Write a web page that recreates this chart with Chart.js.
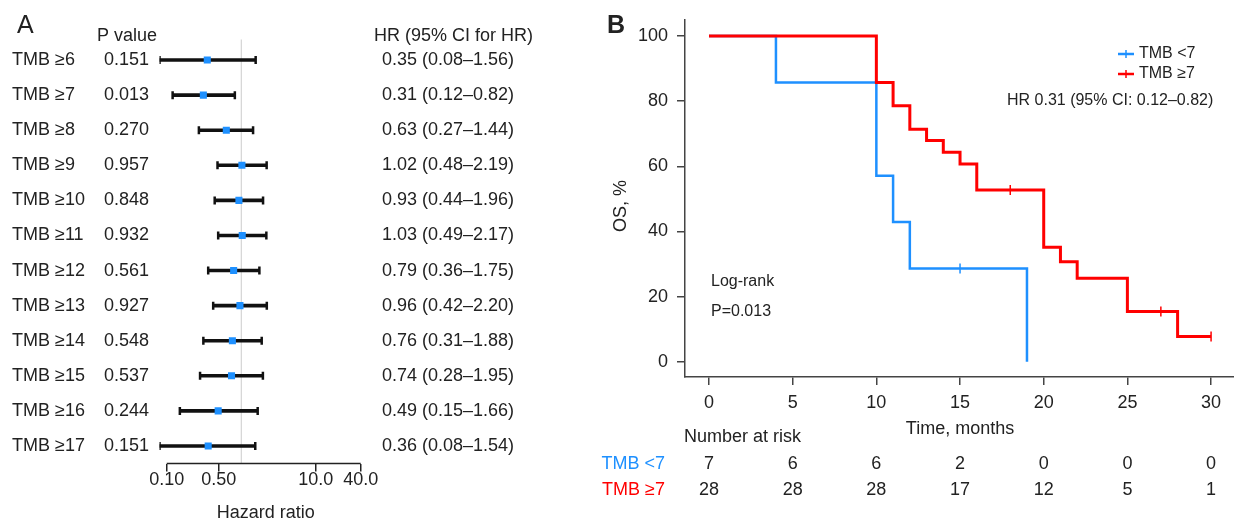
<!DOCTYPE html>
<html>
<head>
<meta charset="utf-8">
<script src="https://cdn.jsdelivr.net/npm/chart.js@4.4.1/dist/chart.umd.min.js"></script>
<style>
  html, body { margin: 0; padding: 0; background: #fff; }
  #wrap { position: relative; width: 1234px; height: 523px; overflow: hidden; }
  #forest { position: absolute; left: 0; top: 0; }
  #km { position: absolute; left: 590px; top: 0; }
</style>
</head>
<body>
<div id="wrap">
  <canvas id="forest" width="590" height="523"></canvas>
  <canvas id="km" width="644" height="523"></canvas>
</div>
<script>
const FONT = "'Liberation Sans', Arial, sans-serif";
const TXT = '#222';
const BLUE = '#1e90ff';
const RED = '#ff0000';

// Panel A: forest plot
const tmbLabels = ['TMB ≥6', 'TMB ≥7', 'TMB ≥8', 'TMB ≥9', 'TMB ≥10', 'TMB ≥11',
                   'TMB ≥12', 'TMB ≥13', 'TMB ≥14', 'TMB ≥15', 'TMB ≥16', 'TMB ≥17'];
const pValues = ['0.151', '0.013', '0.270', '0.957', '0.848', '0.932',
                 '0.561', '0.927', '0.548', '0.537', '0.244', '0.151'];
const hrValues = [0.35, 0.31, 0.63, 1.02, 0.93, 1.03, 0.79, 0.96, 0.76, 0.74, 0.49, 0.36];
const ciLower = [0.08, 0.12, 0.27, 0.48, 0.44, 0.49, 0.36, 0.42, 0.31, 0.28, 0.15, 0.08];
const ciUpper = [1.56, 0.82, 1.44, 2.19, 1.96, 2.17, 1.75, 2.20, 1.88, 1.95, 1.66, 1.54];
const hrTicks = [0.1, 0.5, 10, 40];
const hrTickLabels = ['0.10', '0.50', '10.0', '40.0'];

// Panel B: Kaplan-Meier
const timeTicks = [0, 5, 10, 15, 20, 25, 30];
const osTicks = [0, 20, 40, 60, 80, 100];
const lowTime = [0, 4, 10, 11, 12, 15, 19];
const lowOS = [100, 85.7, 57.1, 42.9, 28.6, 28.6, 0];
const lowCensor = [0, 0, 0, 0, 0, 1, 0];
const highTime = [0, 10, 11, 12, 13, 14, 15, 16, 18, 20, 21, 22, 25, 27, 28, 30];
const highOS = [100, 85.7, 78.6, 71.4, 67.9, 64.3, 60.7, 52.7, 52.7, 35.1, 30.7, 25.6, 15.4, 15.4, 7.7, 7.7];
const highCensor = [0, 0, 0, 0, 0, 0, 0, 0, 1, 0, 0, 0, 0, 1, 0, 1];
const riskLow = [7, 6, 6, 2, 0, 0, 0];
const riskHigh = [28, 28, 28, 17, 12, 5, 1];

Chart.defaults.font.family = FONT;
Chart.defaults.color = TXT;

// texts and reference line of the forest plot
const forestText = {
    id: 'forestText',
    beforeDatasetsDraw(chart) {
        const {ctx, chartArea, scales: {x}} = chart;
        const x1 = x.getPixelForValue(1);
        ctx.save();
        ctx.strokeStyle = '#cccccc';
        ctx.lineWidth = 1;
        ctx.beginPath();
        ctx.moveTo(x1, chartArea.top - 3);
        ctx.lineTo(x1, chartArea.bottom);
        ctx.stroke();
        ctx.restore();
    },
    afterDraw(chart) {
        const {ctx, chartArea, scales: {x, y}} = chart;
        ctx.save();
        // axis line only from first to last tick
        ctx.strokeStyle = TXT;
        ctx.lineWidth = 1.5;
        ctx.beginPath();
        ctx.moveTo(x.getPixelForValue(hrTicks[0]), chartArea.bottom);
        ctx.lineTo(x.getPixelForValue(hrTicks[hrTicks.length - 1]), chartArea.bottom);
        ctx.stroke();

        ctx.fillStyle = TXT;
        ctx.textBaseline = 'alphabetic';
        ctx.font = '25px ' + FONT;
        ctx.fillText('A', 17, 33);
        ctx.font = '18px ' + FONT;
        ctx.fillText('P value', 97, 41);
        ctx.fillText('HR (95% CI for HR)', 374, 41);

        ctx.textBaseline = 'middle';
        tmbLabels.forEach(function(lab, i) {
            const py = y.getPixelForValue(i);
            ctx.fillText(lab, 12, py);
            ctx.fillText(pValues[i], 104, py);
            ctx.fillText(hrValues[i].toFixed(2) + ' (' + ciLower[i].toFixed(2) + '–' + ciUpper[i].toFixed(2) + ')', 382, py);
        });

        ctx.textAlign = 'center';
        const mid = (x.getPixelForValue(hrTicks[0]) + x.getPixelForValue(hrTicks[hrTicks.length - 1])) / 2;
        ctx.fillText('Hazard ratio', mid + 2, 513);
        ctx.restore();
    }
};

new Chart(document.getElementById('forest'), {
    type: 'bar',
    data: {
        labels: tmbLabels,
        datasets: [
            {
                type: 'line',
                data: tmbLabels.map((lab, i) => ({x: hrValues[i], y: lab})),
                showLine: false,
                pointStyle: 'rect',
                pointRadius: 5,
                pointBackgroundColor: BLUE,
                pointBorderColor: BLUE,
                pointBorderWidth: 0,
                order: 0
            },
            {
                type: 'line',
                data: tmbLabels.map((lab, i) => ({x: ciLower[i], y: lab})),
                showLine: false,
                pointStyle: 'line',
                pointRotation: 90,
                pointRadius: 4,
                pointBorderColor: '#111',
                pointBorderWidth: 2.5,
                order: 1
            },
            {
                type: 'line',
                data: tmbLabels.map((lab, i) => ({x: ciUpper[i], y: lab})),
                showLine: false,
                pointStyle: 'line',
                pointRotation: 90,
                pointRadius: 4,
                pointBorderColor: '#111',
                pointBorderWidth: 2.5,
                order: 1
            },
            {
                type: 'bar',
                data: tmbLabels.map((lab, i) => [ciLower[i], ciUpper[i]]),
                backgroundColor: '#111',
                barThickness: 3,
                order: 2
            }
        ]
    },
    options: {
        indexAxis: 'y',
        responsive: false,
        animation: false,
        events: [],
        layout: { autoPadding: false, padding: { left: 159.5, right: 229.3, top: 42.5, bottom: 0 } },
        plugins: { legend: { display: false }, tooltip: { enabled: false } },
        scales: {
            y: { type: 'category', offset: true, display: false },
            x: {
                type: 'logarithmic',
                position: 'bottom',
                min: 0.08,
                max: 40,
                bounds: 'data',
                afterBuildTicks: function(s) { s.ticks = hrTicks.map(v => ({value: v})); },
                afterFit: function(s) { s.height = 59.5; },
                grid: { drawOnChartArea: false, tickLength: 8, color: TXT, lineWidth: 1.5 },
                border: { display: false },
                ticks: {
                    autoSkip: false,
                    maxRotation: 0,
                    padding: -2,
                    color: TXT,
                    font: { size: 18 },
                    callback: function(v, i) { return hrTickLabels[i]; }
                }
            }
        }
    },
    plugins: [forestText]
});

// texts, legend and number at risk of the KM plot
const kmText = {
    id: 'kmText',
    afterDraw(chart) {
        const {ctx, scales: {x}} = chart;
        const sets = chart.data.datasets;
        ctx.save();
        ctx.fillStyle = TXT;
        ctx.textBaseline = 'alphabetic';
        ctx.font = 'bold 25px ' + FONT;
        ctx.fillText('B', 17, 33);

        // legend
        ctx.font = '16px ' + FONT;
        ctx.textBaseline = 'middle';
        sets.forEach(function(ds, i) {
            const ly = 54 + i * 20;
            ctx.strokeStyle = ds.borderColor;
            ctx.lineWidth = 2.5;
            ctx.beginPath();
            ctx.moveTo(528, ly);
            ctx.lineTo(544, ly);
            ctx.stroke();
            ctx.lineWidth = 1.5;
            ctx.beginPath();
            ctx.moveTo(536, ly - 4);
            ctx.lineTo(536, ly + 4);
            ctx.stroke();
            ctx.fillStyle = TXT;
            ctx.fillText(ds.label, 549, ly);
        });
        ctx.fillText('HR 0.31 (95% CI: 0.12–0.82)', 417, 101);
        ctx.fillText('Log-rank', 121, 282);
        ctx.fillText('P=0.013', 121, 312);

        // axis titles
        ctx.font = '18px ' + FONT;
        ctx.save();
        ctx.translate(31, 206);
        ctx.rotate(-Math.PI / 2);
        ctx.textAlign = 'center';
        ctx.fillText('OS, %', 0, 0);
        ctx.restore();
        ctx.textAlign = 'center';
        const mid = (x.getPixelForValue(timeTicks[0]) + x.getPixelForValue(timeTicks[timeTicks.length - 1])) / 2;
        ctx.fillText('Time, months', mid, 429);

        // number at risk
        ctx.textAlign = 'left';
        ctx.fillText('Number at risk', 94, 437);
        const rows = [[sets[0], riskLow, 464], [sets[1], riskHigh, 490]];
        rows.forEach(function(r) {
            ctx.textAlign = 'right';
            ctx.fillStyle = r[0].borderColor;
            ctx.fillText(r[0].label, 75, r[2]);
            ctx.textAlign = 'center';
            ctx.fillStyle = TXT;
            timeTicks.forEach(function(t, i) {
                ctx.fillText(String(r[1][i]), x.getPixelForValue(t), r[2]);
            });
        });
        ctx.restore();
    }
};

new Chart(document.getElementById('km'), {
    type: 'line',
    data: {
        datasets: [
            {
                label: 'TMB <7',
                data: lowTime.map((t, i) => ({x: t, y: lowOS[i]})),
                borderColor: BLUE,
                borderWidth: 2.5,
                stepped: 'before',
                fill: false,
                pointStyle: 'line',
                pointRotation: 90,
                pointRadius: lowCensor.map(c => c ? 5 : 0),
                pointBorderColor: BLUE,
                pointBorderWidth: 1.5,
                order: 1
            },
            {
                label: 'TMB ≥7',
                data: highTime.map((t, i) => ({x: t, y: highOS[i]})),
                borderColor: RED,
                borderWidth: 3,
                stepped: 'before',
                fill: false,
                pointStyle: 'line',
                pointRotation: 90,
                pointRadius: highCensor.map(c => c ? 5 : 0),
                pointBorderColor: RED,
                pointBorderWidth: 1.5,
                order: 0
            }
        ]
    },
    options: {
        responsive: false,
        animation: false,
        events: [],
        layout: { autoPadding: false, padding: { left: 0, right: 0, top: 20, bottom: 0 } },
        plugins: { legend: { display: false }, tooltip: { enabled: false } },
        scales: {
            x: {
                type: 'linear',
                min: -1.434,
                max: 31.37,
                bounds: 'data',
                afterBuildTicks: function(s) { s.ticks = timeTicks.map(v => ({value: v})); },
                afterFit: function(s) { s.height = 146; s.paddingLeft = 0; s.paddingRight = 0; },
                grid: { drawOnChartArea: false, tickLength: 8, color: '#444', lineWidth: 1.5 },
                border: { color: '#444', width: 1.5 },
                ticks: { autoSkip: false, maxRotation: 0, padding: 7, color: TXT, font: { size: 18 } }
            },
            y: {
                type: 'linear',
                min: -4.70,
                max: 104.91,
                bounds: 'data',
                afterBuildTicks: function(s) { s.ticks = osTicks.map(v => ({value: v})); },
                afterFit: function(s) { s.width = 95; s.paddingTop = 0; s.paddingBottom = 0; },
                grid: { drawOnChartArea: false, tickLength: 8, color: '#444', lineWidth: 1.5 },
                border: { color: '#444', width: 1.5 },
                ticks: { padding: 9, color: TXT, font: { size: 18 } }
            }
        }
    },
    plugins: [kmText]
});
</script>
</body>
</html>
